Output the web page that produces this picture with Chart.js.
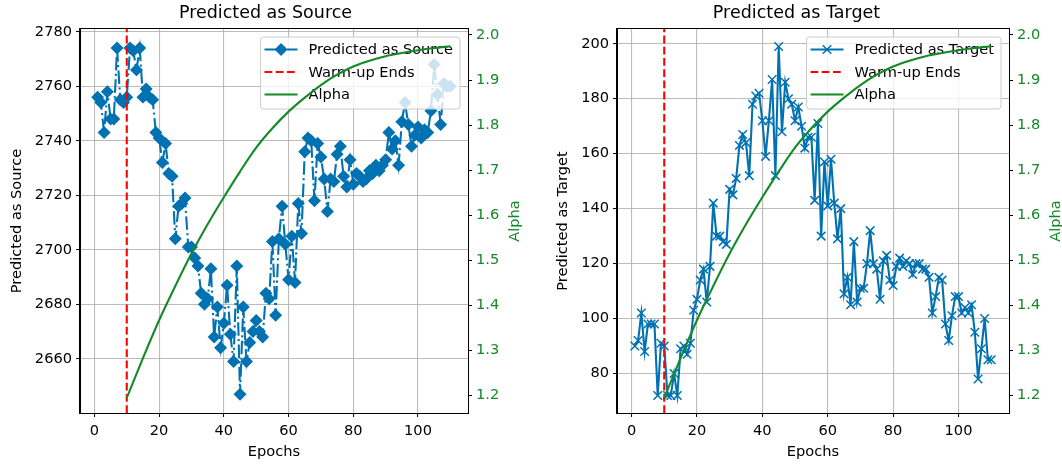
<!DOCTYPE html>
<html>
<head>
<meta charset="utf-8">
<script src="https://cdn.jsdelivr.net/npm/chart.js@4.4.1/dist/chart.umd.min.js"></script>
<style>
  html, body { margin: 0; padding: 0; background: #fff; }
  #wrap { position: relative; width: 1062px; height: 466px; }
  .box { position: absolute; top: 0; width: 531px; height: 466px; }
</style>
</head>
<body>
<div id="wrap">
  <div class="box" style="left:0"><canvas id="srcChart"></canvas></div>
  <div class="box" style="left:531px"><canvas id="tgtChart"></canvas></div>
</div>
<script>
// epochs 1..110
const epochs = [1,2,3,4,5,6,7,8,9,10,11,12,13,14,15,16,17,18,19,20,
  21,22,23,24,25,26,27,28,29,30,31,32,33,34,35,36,37,38,39,40,
  41,42,43,44,45,46,47,48,49,50,51,52,53,54,55,56,57,58,59,60,
  61,62,63,64,65,66,67,68,69,70,71,72,73,74,75,76,77,78,79,80,
  81,82,83,84,85,86,87,88,89,90,91,92,93,94,95,96,97,98,99,100,
  101,102,103,104,105,106,107,108,109,110];

const predictedSource = [2756,2754,2743,2758,2748,2748,2774,2755,2754,2756,
  2774,2773,2766,2774,2756,2759,2756,2755,2743,2741,
  2732,2739,2728,2727,2704,2716,2717,2719,2701,2701,
  2697,2694,2684,2680,2682,2693,2668,2679,2664,2673,
  2687,2669,2659,2694,2647,2679,2659,2666,2670,2674,
  2670,2668,2684,2682,2703,2676,2704,2716,2702,2689,
  2705,2688,2717,2706,2736,2741,2740,2718,2739,2734,
  2726,2714,2726,2725,2735,2738,2727,2723,2733,2724,
  2728,2727,2725,2726,2729,2728,2731,2729,2731,2733,
  2743,2737,2740,2731,2747,2754,2746,2738,2742,2745,
  2741,2744,2743,2751,2768,2757,2746,2761,2760,2760];

const predictedTarget = [90,92,102,88,98,98,98,72,91,90,
  72,72,80,72,89,90,87,91,103,107,
  114,118,106,119,142,130,130,128,127,147,
  145,151,163,167,164,152,178,181,182,172,
  159,172,187,152,199,168,186,180,178,172,
  177,170,162,166,166,143,171,130,157,141,
  158,142,129,140,109,115,105,128,106,111,
  111,120,132,120,118,107,121,123,114,112,
  119,122,119,121,120,116,120,120,118,118,
  115,102,108,115,114,98,92,101,108,108,
  102,104,102,105,95,78,89,100,85,85];

const alphaEpochs = [10,15,20,25,30,35,40,45,50,55,60,65,70,75,80,85,90,95,100,105,110];
const alphaValues = [1.195,1.283,1.367,1.443,1.515,1.580,1.640,1.697,1.750,1.793,1.830,
  1.861,1.889,1.912,1.930,1.943,1.953,1.960,1.966,1.971,1.975];

const warmupEpoch = 10;

// tick labels
const epochTicks = [0, 20, 40, 60, 80, 100];
const sourceTicks = [2660, 2680, 2700, 2720, 2740, 2760, 2780];
const targetTicks = [80, 100, 120, 140, 160, 180, 200];
const alphaTicks = [1.2, 1.3, 1.4, 1.5, 1.6, 1.7, 1.8, 1.9, 2.0];

const BLUE = '#0072b2';
const GREEN = '#138a28';
const FONT = '"DejaVu Sans", sans-serif';
const fs = 14.6;
const LW = 2.1;

function drawMarker(ctx, style, r, x, y) {
  ctx.beginPath();
  if (style === 'rectRot') {
    ctx.moveTo(x - r, y); ctx.lineTo(x, y - r);
    ctx.lineTo(x + r, y); ctx.lineTo(x, y + r);
    ctx.closePath();
    ctx.fill(); ctx.stroke();
  } else if (style === 'crossRot') {
    const d = r * Math.SQRT1_2;
    ctx.moveTo(x - d, y - d); ctx.lineTo(x + d, y + d);
    ctx.moveTo(x + d, y - d); ctx.lineTo(x - d, y + d);
    ctx.stroke();
  }
}

function drawLegend(chart) {
  const { ctx, chartArea: a } = chart;
  const items = chart.data.datasets;
  ctx.save();
  ctx.font = fs + 'px ' + FONT;
  const textW = Math.max(...items.map(d => ctx.measureText(d.label).width));
  const w = 48 + textW + 7, h = 72;
  const x = a.right - 8 - w, y = a.top + 8;
  ctx.beginPath();
  ctx.roundRect(x, y, w, h, 3);
  ctx.fillStyle = 'rgba(255,255,255,0.8)';
  ctx.fill();
  ctx.strokeStyle = '#cccccc';
  ctx.lineWidth = 1;
  ctx.stroke();
  items.forEach((d, i) => {
    const cy = y + 12.5 + i * 22.5;
    ctx.strokeStyle = d.borderColor;
    ctx.fillStyle = d.borderColor;
    ctx.lineWidth = d.borderWidth;
    ctx.setLineDash(d.borderDash || []);
    ctx.beginPath();
    ctx.moveTo(x + 4, cy); ctx.lineTo(x + 37, cy);
    ctx.stroke();
    ctx.setLineDash([]);
    if (d.pointRadius > 0) {
      ctx.lineWidth = d.pointBorderWidth;
      drawMarker(ctx, d.pointStyle, d.pointRadius, x + 20.5, cy);
    }
    ctx.fillStyle = '#000';
    ctx.textBaseline = 'middle';
    ctx.textAlign = 'left';
    ctx.fillText(d.label, x + 48, cy + 1);
  });
  ctx.restore();
}

const overlay = {
  id: 'overlay',
  beforeDatasetDraw(chart, args) {
    if (args.index === 2) drawLegend(chart);
  },
  afterDraw(chart) {
    const { ctx, chartArea: a } = chart;
    ctx.save();
    ctx.strokeStyle = '#000';
    ctx.lineWidth = 1;
    ctx.strokeRect(Math.round(a.left) - 0.5, Math.round(a.top) - 0.5,
      Math.round(a.right - a.left) + 1, Math.round(a.bottom - a.top) + 1);
    ctx.translate(a.right + 47, (a.top + a.bottom) / 2);
    ctx.rotate(-Math.PI / 2);
    ctx.fillStyle = GREEN;
    ctx.font = fs + 'px ' + FONT;
    ctx.textAlign = 'center';
    ctx.textBaseline = 'middle';
    ctx.fillText('Alpha', 0, 0);
    ctx.restore();
  }
};

const setTicks = list => s => { s.ticks = list.map(v => ({ value: v })); };

function makeChart(id, o) {
  const tickFont = { family: FONT, size: fs };
  const grid = { color: 'rgba(176,176,176,0.85)', lineWidth: 1.1, tickColor: '#000', tickLength: 4, tickWidth: 1 };
  return new Chart(document.getElementById(id), {
    type: 'line',
    data: {
      datasets: [
        {
          label: o.label,
          data: epochs.map((e, i) => ({ x: e, y: o.values[i] })),
          yAxisID: 'y',
          borderColor: BLUE,
          backgroundColor: BLUE,
          borderWidth: LW,
          borderDash: o.dash,
          pointStyle: o.marker,
          pointRadius: o.radius,
          pointBorderWidth: o.markerWidth,
          pointBackgroundColor: BLUE,
          pointBorderColor: BLUE,
          order: 3
        },
        {
          label: 'Warm-up Ends',
          data: [{ x: warmupEpoch, y: o.yMin }, { x: warmupEpoch, y: o.yMax }],
          yAxisID: 'y',
          borderColor: '#ff0000',
          borderWidth: LW,
          borderDash: [7.8, 3.4],
          pointRadius: 0,
          order: 2
        },
        {
          label: 'Alpha',
          data: alphaEpochs.map((e, i) => ({ x: e, y: alphaValues[i] })),
          yAxisID: 'y1',
          borderColor: GREEN,
          borderWidth: LW,
          pointRadius: 0,
          cubicInterpolationMode: 'monotone',
          order: 1
        }
      ]
    },
    options: {
      responsive: true,
      maintainAspectRatio: false,
      animation: false,
      layout: { padding: 0, autoPadding: false },
      plugins: {
        legend: { display: false },
        tooltip: { enabled: false },
        title: {
          display: true, text: o.title, color: '#000',
          font: { family: FONT, size: 17.5, weight: 'normal' },
          padding: { top: 3, bottom: 5 }
        }
      },
      scales: {
        x: {
          type: 'linear', min: -4.45, max: 115.45,
          afterBuildTicks: setTicks(epochTicks),
          ticks: { font: tickFont, color: '#000', padding: 5, maxRotation: 0, autoSkip: false, callback: v => String(v) },
          grid: grid,
          border: { color: '#000', width: 1 },
          title: { display: true, text: 'Epochs', color: '#000', font: tickFont, padding: { top: 0, bottom: 5.2 } },
          afterFit: s => { s.height = 53; }
        },
        y: {
          position: 'left', min: o.yMin, max: o.yMax,
          afterBuildTicks: setTicks(o.ticks),
          ticks: { font: tickFont, color: '#000', padding: 4, autoSkip: false, callback: v => String(v) },
          grid: grid,
          border: { color: '#000', width: 1 },
          title: { display: true, text: o.yTitle, color: '#000', font: tickFont, padding: { top: o.yTitlePad, bottom: 0 } },
          afterFit: s => { s.width = o.leftW; }
        },
        y1: {
          position: 'right', min: 1.1613, max: 2.0133,
          afterBuildTicks: setTicks(alphaTicks),
          ticks: { font: tickFont, color: GREEN, padding: 4, autoSkip: false, callback: v => v.toFixed(1) },
          grid: { drawOnChartArea: false, tickColor: '#000', tickLength: 4, tickWidth: 1 },
          border: { color: '#000', width: 1 },
          afterFit: s => { s.width = o.rightW; }
        }
      }
    },
    plugins: [overlay]
  });
}

makeChart('srcChart', {
  title: 'Predicted as Source', label: 'Predicted as Source', yTitle: 'Predicted as Source',
  values: predictedSource, ticks: sourceTicks, yMin: 2640.1, yMax: 2781.0,
  dash: [13.5, 3.4, 2.1, 3.4], marker: 'rectRot', radius: 5.5, markerWidth: 1.4,
  leftW: 80, rightW: 63, yTitlePad: 8.2
});

makeChart('tgtChart', {
  title: 'Predicted as Target', label: 'Predicted as Target', yTitle: 'Predicted as Target',
  values: predictedTarget, ticks: targetTicks, yMin: 65.65, yMax: 205.35,
  dash: [], marker: 'crossRot', radius: 6, markerWidth: 1.5,
  leftW: 86, rightW: 53, yTitlePad: 23.2
});
</script>
</body>
</html>
